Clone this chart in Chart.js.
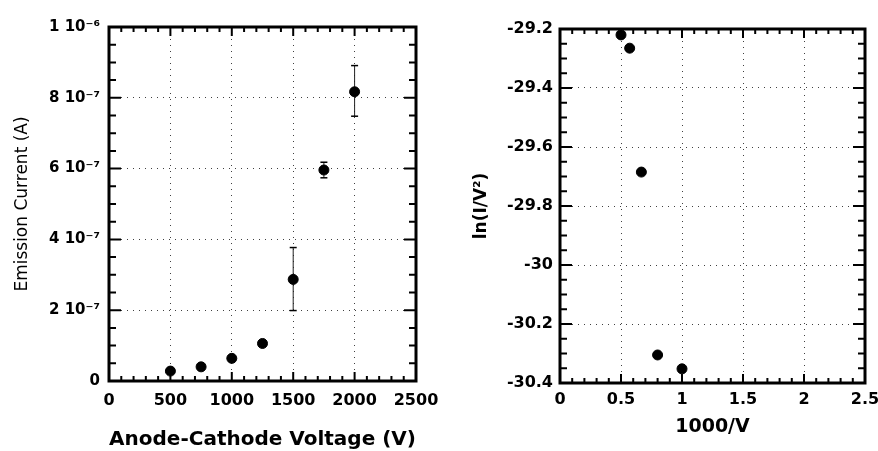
<!DOCTYPE html>
<html>
<head>
<meta charset="utf-8">
<script src="https://cdn.jsdelivr.net/npm/chart.js@4/dist/chart.umd.min.js"></script>
<style>
  html, body { margin: 0; padding: 0; background: #fff; overflow: hidden; width: 878px; height: 451px; }
  .wrap { position: absolute; top: 0; height: 451px; }
  #leftWrap { left: 0; width: 440px; }
  #rightWrap { left: 440px; width: 460px; }
</style>
</head>
<body>
<div class="wrap" id="leftWrap"><canvas id="currentChart" width="440" height="451"></canvas></div>
<div class="wrap" id="rightWrap"><canvas id="fnChart" width="460" height="451"></canvas></div>
<script>
// ===== DATA =====
const voltage = [500, 750, 1000, 1250, 1500, 1750, 2000];
const current = [2.8e-8, 4.0e-8, 6.4e-8, 1.06e-7, 2.87e-7, 5.96e-7, 8.17e-7];
const errVoltage = [1500, 1750, 2000];
const errLow = [1.99e-7, 5.74e-7, 7.48e-7];
const errHigh = [3.77e-7, 6.18e-7, 8.91e-7];

const invVoltage = [0.5, 0.571, 0.667, 0.8, 1.0];
const lnIV2 = [-29.22, -29.265, -29.685, -30.305, -30.352];

const voltageTicks = [0, 500, 1000, 1500, 2000, 2500];
const currentTicks = [0, 2e-7, 4e-7, 6e-7, 8e-7, 1e-6];
const currentTickLabels = ['0', '2 10⁻⁷', '4 10⁻⁷', '6 10⁻⁷', '8 10⁻⁷', '1 10⁻⁶'];
const invTicks = [0, 0.5, 1, 1.5, 2, 2.5];
const invTickLabels = ['0', '0.5', '1', '1.5', '2', '2.5'];
const lnTicks = [-30.4, -30.2, -30, -29.8, -29.6, -29.4, -29.2];
const lnTickLabels = ['-30.4', '-30.2', '-30', '-29.8', '-29.6', '-29.4', '-29.2'];

// ===== FRAME + INWARD TICKS =====
function tickMarks(scale, step) {
  const out = [];
  for (let i = 0; ; i++) {
    const v = scale.min + i * step;
    if (v > scale.max + step * 1e-6) break;
    const major = scale.ticks.some(t => Math.abs(t.value - v) < step * 1e-3);
    out.push({ v, major });
  }
  return out;
}

const frameTicks = {
  id: 'frameTicks',
  beforeDatasetsDraw(chart, args, opts) {
    const { ctx, chartArea: a, scales: { x, y } } = chart;
    ctx.save();
    ctx.strokeStyle = '#000';
    ctx.lineWidth = 2;
    ctx.beginPath();
    tickMarks(x, opts.xMinor).forEach(m => {
      const px = x.getPixelForValue(m.v);
      const len = m.major ? 9 : 5;
      ctx.moveTo(px, a.bottom); ctx.lineTo(px, a.bottom - len);
      ctx.moveTo(px, a.top); ctx.lineTo(px, a.top + len);
    });
    tickMarks(y, opts.yMinor).forEach(m => {
      const py = y.getPixelForValue(m.v);
      const len = m.major ? 12 : 7;
      ctx.moveTo(a.left, py); ctx.lineTo(a.left + len, py);
      ctx.moveTo(a.right, py); ctx.lineTo(a.right - len, py);
    });
    ctx.stroke();
    ctx.lineWidth = 3;
    ctx.strokeRect(a.left, a.top, a.right - a.left, a.bottom - a.top);
    ctx.restore();
  }
};

// ===== SHARED STYLE =====
const tickFont = { family: 'DejaVu Sans', weight: 'bold', size: 16 };
const gridStyle = { color: 'rgba(0,0,0,0.75)', lineWidth: 1, drawTicks: false };
const borderStyle = { display: false, dash: [1, 5] };

function setTicks(values) {
  return s => { s.ticks = values.map(v => ({ value: v })); };
}

// x axes: fixed height, and let end labels hang past the plot
function fitX(h) {
  return s => { s.height = h; s.paddingLeft = 0; s.paddingRight = 0; };
}

// ===== LEFT: EMISSION CURRENT =====
const errData = [];
errVoltage.forEach((v, i) => {
  errData.push({ x: v, y: errLow[i] }, { x: v, y: errHigh[i] }, { x: v, y: null });
});

new Chart(document.getElementById('currentChart'), {
  type: 'scatter',
  data: {
    datasets: [
      {
        label: 'Emission current',
        data: voltage.map((v, i) => ({ x: v, y: current[i] })),
        backgroundColor: '#000', borderColor: '#000',
        pointRadius: 5, pointHoverRadius: 5, clip: false
      },
      {
        label: 'Error',
        data: errData,
        showLine: true, spanGaps: false,
        borderColor: '#222', borderWidth: 1,
        pointStyle: 'line', pointRadius: 3.5, pointBorderColor: '#000', pointBorderWidth: 1.5,
        clip: false
      }
    ]
  },
  options: {
    responsive: false, animation: false, events: [],
    layout: { padding: { top: 27, right: 24, left: 0, bottom: 0 } },
    plugins: { legend: { display: false }, tooltip: { enabled: false }, frameTicks: { xMinor: 100, yMinor: 5e-8 } },
    scales: {
      x: {
        type: 'linear', min: 0, max: 2500,
        afterBuildTicks: setTicks(voltageTicks),
        afterFit: fitX(70),
        grid: gridStyle, border: borderStyle,
        ticks: { color: '#000', font: tickFont, padding: 10, maxRotation: 0, autoSkip: false, callback: v => String(v) },
        title: { display: true, text: 'Anode-Cathode Voltage (V)', color: '#000',
          font: { family: 'DejaVu Sans', weight: 'bold', size: 20, lineHeight: 1.1 }, padding: { top: 0, bottom: 0 } }
      },
      y: {
        type: 'linear', min: 0, max: 1e-6,
        afterBuildTicks: setTicks(currentTicks),
        afterFit: s => { s.width = 109; },
        grid: gridStyle, border: borderStyle,
        ticks: { color: '#000', font: { family: 'DejaVu Sans', weight: 'bold', size: 15 }, padding: 9, autoSkip: false,
          callback: (v, i) => currentTickLabels[i] },
        title: { display: true, text: 'Emission Current (A)', color: '#000',
          font: { family: 'DejaVu Sans', size: 17 }, padding: { top: 12, bottom: 0 } }
      }
    }
  },
  plugins: [frameTicks]
});

// ===== RIGHT: FOWLER-NORDHEIM =====
new Chart(document.getElementById('fnChart'), {
  type: 'scatter',
  data: {
    datasets: [{
      label: 'ln(I/V²)',
      data: invVoltage.map((v, i) => ({ x: v, y: lnIV2[i] })),
      backgroundColor: '#000', borderColor: '#000',
      pointRadius: 5, pointHoverRadius: 5, clip: false
    }]
  },
  options: {
    responsive: false, animation: false, events: [],
    layout: { padding: { top: 29, right: 35, left: 0, bottom: 0 } },
    plugins: { legend: { display: false }, tooltip: { enabled: false }, frameTicks: { xMinor: 0.1, yMinor: 0.05 } },
    scales: {
      x: {
        type: 'linear', min: 0, max: 2.5,
        afterBuildTicks: setTicks(invTicks),
        afterFit: fitX(68),
        grid: gridStyle, border: borderStyle,
        ticks: { color: '#000', font: tickFont, padding: 7, maxRotation: 0, autoSkip: false,
          callback: (v, i) => invTickLabels[i] },
        title: { display: true, text: '1000/V', color: '#000',
          font: { family: 'DejaVu Sans', weight: 'bold', size: 19 }, padding: { top: 0, bottom: 13 } }
      },
      y: {
        type: 'linear', min: -30.4, max: -29.2,
        afterBuildTicks: setTicks(lnTicks),
        afterFit: s => { s.width = 120; },
        grid: gridStyle, border: borderStyle,
        ticks: { color: '#000', font: tickFont, padding: 7, autoSkip: false,
          callback: (v, i) => lnTickLabels[i] },
        title: { display: true, text: 'ln(I/V²)', color: '#000',
          font: { family: 'DejaVu Sans', weight: 'bold', size: 17 }, padding: { top: 31, bottom: 0 } }
      }
    }
  },
  plugins: [frameTicks]
});
</script>
</body>
</html>
